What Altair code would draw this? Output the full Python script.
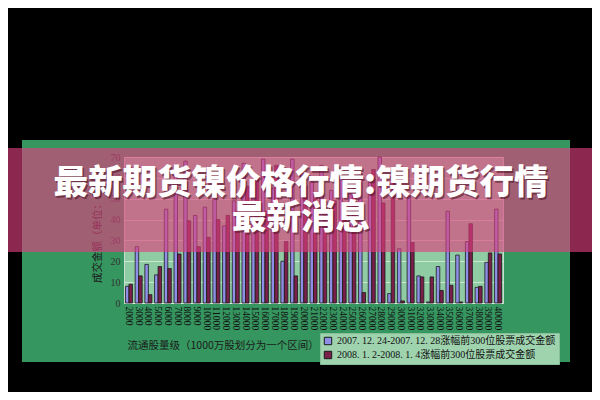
import altair as alt
import pandas as pd

# ---- data ----
categories = ["2000", "3000", "4000", "5000", "6000", "7000", "8000", "9000", "10000",
              "11000", "12000", "13000", "14000", "15000", "16000", "17000", "18000",
              "19000", "20000", "21000", "22000", "23000", "24000", "25000", "26000",
              "27000", "28000", "29000", "30000", "31000", "32000", "33000", "34000",
              "35000", "36000", "37000", "38000", "39000", "40000"]
series_2007 = [8, 27, 18.5, 13.5, 45, 66, 68, 42, 46,
               53, 37, 49, 67, 52, 69, 55, 20,
               69, 62, 58, 66, 54, 60, 57, 62,
               58, 70, 4.5, 26, 51, 13, 0.5, 17.5,
               44, 23, 29.5, 7.5, 19.5, 45]
series_2008 = [9, 13, 4, 17.5, 16.5, 23.5, 39.5, 27, 31.5,
               40, 42, 44, 56, 60, 44, 66, 29.5,
               13, 56, 50, 46, 49, 44, 58, 5,
               64, 48, 58, 1, 29, 12.5, 12.5, 6,
               8.5, 0.5, 38, 8, 24, 23.5]
series_names = ["2007. 12. 24-2007. 12. 28涨幅前300位股票成交金额",
                "2008. 1. 2-2008. 1. 4涨幅前300位股票成交金额"]
y_ticks = [0, 10, 20, 30, 40, 50, 60, 70]
x_title = "流通股量级（1000万股划分为一个区间）"
y_title = "成交金额（单位：亿）"
headline = ["最新期货镍价格行情:镍期货行情", "最新消息"]

rows = []
for c, a, b in zip(categories, series_2007, series_2008):
    rows.append({"cat": c, "series": series_names[0], "value": a})
    rows.append({"cat": c, "series": series_names[1], "value": b})
df = pd.DataFrame(rows)

CJK = "Noto Sans CJK SC"
SERIF = "Liberation Serif, Noto Sans CJK SC"

bars = alt.Chart(df).mark_bar(stroke="#1a1a1a", strokeWidth=0.8).encode(
    x=alt.X("cat:N", sort=categories,
            scale=alt.Scale(paddingInner=0.28, paddingOuter=0.15),
            axis=alt.Axis(title=x_title, labelAngle=90, labelAlign="left",
                          labelBaseline="middle", labelFont=SERIF, labelFontSize=9.5,
                          labelColor="#111", labelPadding=3, ticks=False, domain=False,
                          grid=False, titleFont=CJK, titleFontSize=10.5,
                          titleFontWeight="normal", titleColor="#1a1a1a",
                          titleX=3, titleY=42, titleAlign="left",
                          titleBaseline="middle", titleAngle=0)),
    xOffset=alt.XOffset("series:N", sort=series_names),
    y=alt.Y("value:Q", scale=alt.Scale(domain=[0, 70]),
            axis=alt.Axis(values=y_ticks, title=y_title, labelFont=SERIF,
                          labelFontSize=10, labelColor="#333", labelPadding=4,
                          ticks=False, domain=False, grid=True,
                          gridColor="#e4f2e8", gridOpacity=0.7,
                          titleFont=CJK, titleFontSize=10.5, titleFontWeight="normal",
                          titleColor="#1a1a1a", titleX=-27, titleY=73, titleAngle=270,
                          titleAlign="center", titleBaseline="middle")),
    fill=alt.Fill("series:N",
                  scale=alt.Scale(domain=series_names, range=["#8e8ee6", "#7a1f4a"]),
                  legend=alt.Legend(title=None, orient="none", legendX=196, legendY=176,
                                    fillColor="#9ed3ae", strokeColor="#86bf98",
                                    padding=3, symbolType="square", symbolSize=55,
                                    symbolStrokeColor="#1a1a1a", symbolStrokeWidth=1,
                                    labelFont=SERIF, labelFontSize=10, labelColor="#111",
                                    labelLimit=400, rowPadding=2)),
)

one = alt.Data(values=[{"k": 1}])

def block(x, x2, y, y2, color, opacity=1.0):
    return alt.Chart(one).mark_rect(color=color, opacity=opacity).encode(
        x=alt.value(x), x2=alt.value(x2), y=alt.value(y), y2=alt.value(y2))

black_top = block(-116, 468, -149, -17, "#000000")
black_bottom = block(-116, 468, 205, 235, "#000000")
black_left = block(-116, -102, -17, 205, "#000000")
black_right = block(446, 468, -17, 205, "#000000")
banner = block(-116, 468, -9, 95, "#de3f7f", 0.63)

def line(text, y, color, dx=0, dy=0, opacity=1.0):
    return alt.Chart(alt.Data(values=[{"t": text}])).mark_text(
        font=CJK, fontSize=34.5, fontWeight=900, color=color, opacity=opacity,
        align="center", baseline="middle", dx=dx, dy=dy).encode(
        text="t:N", x=alt.value(177), y=alt.value(y))

shadows = [line(headline[0], 27, "#4a1020", 1.5, 1.5, 0.55),
           line(headline[1], 62, "#4a1020", 1.5, 1.5, 0.55)]
texts = [line(headline[0], 27, "#ffffff"), line(headline[1], 62, "#ffffff")]

chart = alt.layer(bars, black_top, black_bottom, black_left, black_right, banner,
                  *shadows, *texts).properties(
    width=379, height=146,
    autosize=alt.AutoSizeParams(type="none"),
    padding={"left": 116, "top": 149, "right": 89, "bottom": 89},
    background="#36965f",
).configure_view(fill="#8fcca3", stroke="#c9dccf", strokeWidth=1)

chart.save("out.html", embed_options={"renderer": "svg", "actions": False})
